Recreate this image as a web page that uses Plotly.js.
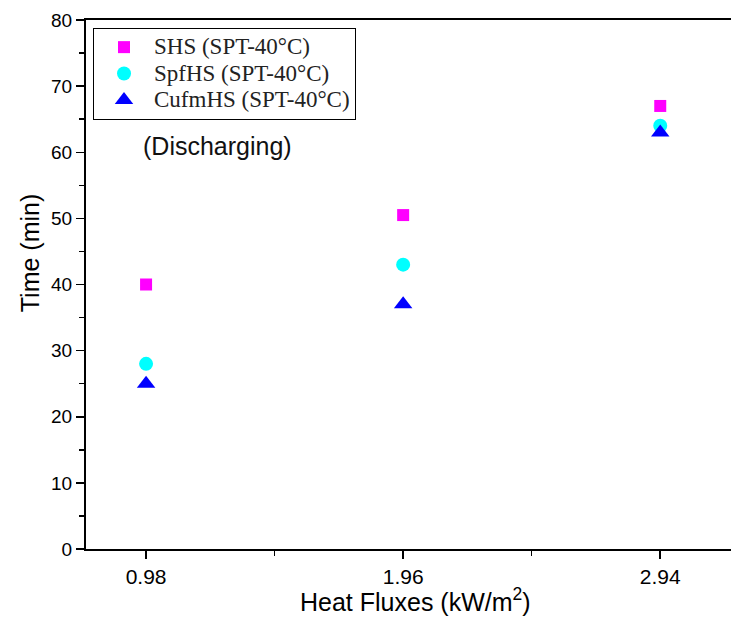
<!DOCTYPE html>
<html>
<head>
<meta charset="utf-8">
<script src="https://cdn.plot.ly/plotly-3.0.1.min.js"></script>
<style>
html,body{margin:0;padding:0;overflow:hidden;background:#fff;}
#chart{width:745px;height:617px;}
</style>
</head>
<body>
<div id="chart"></div>
<script>
const heatFlux = [0.98, 1.96, 2.94];
const shs = [40, 50.5, 67];
const spfhs = [28, 43, 64];
const cufmhs = [25, 37, 63];
const seriesNames = ['SHS (SPT-40°C)', 'SpfHS (SPT-40°C)', 'CufmHS (SPT-40°C)'];
const big = s => '<span style="font-size:23px">' + s + '</span>';

const traces = [
  {x: heatFlux, y: shs, name: big(seriesNames[0]), mode: 'markers', type: 'scatter',
   marker: {symbol: 'square', color: '#ff00ff', size: 12}},
  {x: heatFlux, y: spfhs, name: big(seriesNames[1]), mode: 'markers', type: 'scatter',
   marker: {symbol: 'circle', color: '#00ffff', size: 14}},
  {x: heatFlux, y: cufmhs, name: big(seriesNames[2]), mode: 'markers', type: 'scatter',
   marker: {symbol: 'triangle-up', color: '#0000ff', size: 16}}
];

const sans = '"Liberation Sans", Arial, sans-serif';
const layout = {
  width: 745, height: 617,
  margin: {l: 86, r: 10, t: 20, b: 68},
  paper_bgcolor: '#fff', plot_bgcolor: '#fff',
  showlegend: true,
  legend: {x: 0.0108, y: 0.985, xanchor: 'left', yanchor: 'top',
    bgcolor: '#fff', bordercolor: '#000', borderwidth: 1,
    itemwidth: 50,
    font: {family: '"Liberation Serif", "Times New Roman", serif', size: 18, color: '#222'},
    tracegroupgap: 0},
  xaxis: {
    range: [0.751, 3.225],
    tickvals: heatFlux, ticktext: heatFlux.map(v => v.toFixed(2)),
    ticks: 'outside', ticklen: 8, tickwidth: 1.5, tickcolor: '#000',
    minor: {tickvals: [1.47, 2.45], ticks: 'outside', ticklen: 5, tickwidth: 1.5, tickcolor: '#000'},
    showline: true, linecolor: '#000', linewidth: 2, mirror: true,
    showgrid: false, zeroline: false,
    tickfont: {family: sans, size: 21, color: '#000'}
  },
  yaxis: {
    range: [0, 80], dtick: 10, tick0: 0,
    ticks: 'outside', ticklen: 8, tickwidth: 1.5, tickcolor: '#000',
    minor: {dtick: 5, ticks: 'outside', ticklen: 5, tickwidth: 1.5, tickcolor: '#000'},
    showline: true, linecolor: '#000', linewidth: 2, mirror: true,
    showgrid: false, zeroline: false,
    tickfont: {family: sans, size: 19, color: '#000'}
  },
  annotations: [{
    text: '(Discharging)', xref: 'paper', yref: 'paper', x: 0.203, y: 0.762,
    xanchor: 'center', yanchor: 'middle', showarrow: false,
    font: {family: sans, size: 25, color: '#111'}
  }, {
    text: 'Time (min)', xref: 'paper', yref: 'paper', x: -0.0863, y: 0.561,
    xanchor: 'center', yanchor: 'middle', showarrow: false, textangle: -90,
    font: {family: sans, size: 25, color: '#000'}
  }, {
    text: 'Heat Fluxes (kW/m<sup>2</sup>)', xref: 'paper', yref: 'paper', x: 0.508, y: -0.0964,
    xanchor: 'center', yanchor: 'middle', showarrow: false,
    font: {family: sans, size: 25, color: '#000'}
  }]
};

Plotly.newPlot('chart', traces, layout, {displayModeBar: false, staticPlot: true});
</script>
</body>
</html>
